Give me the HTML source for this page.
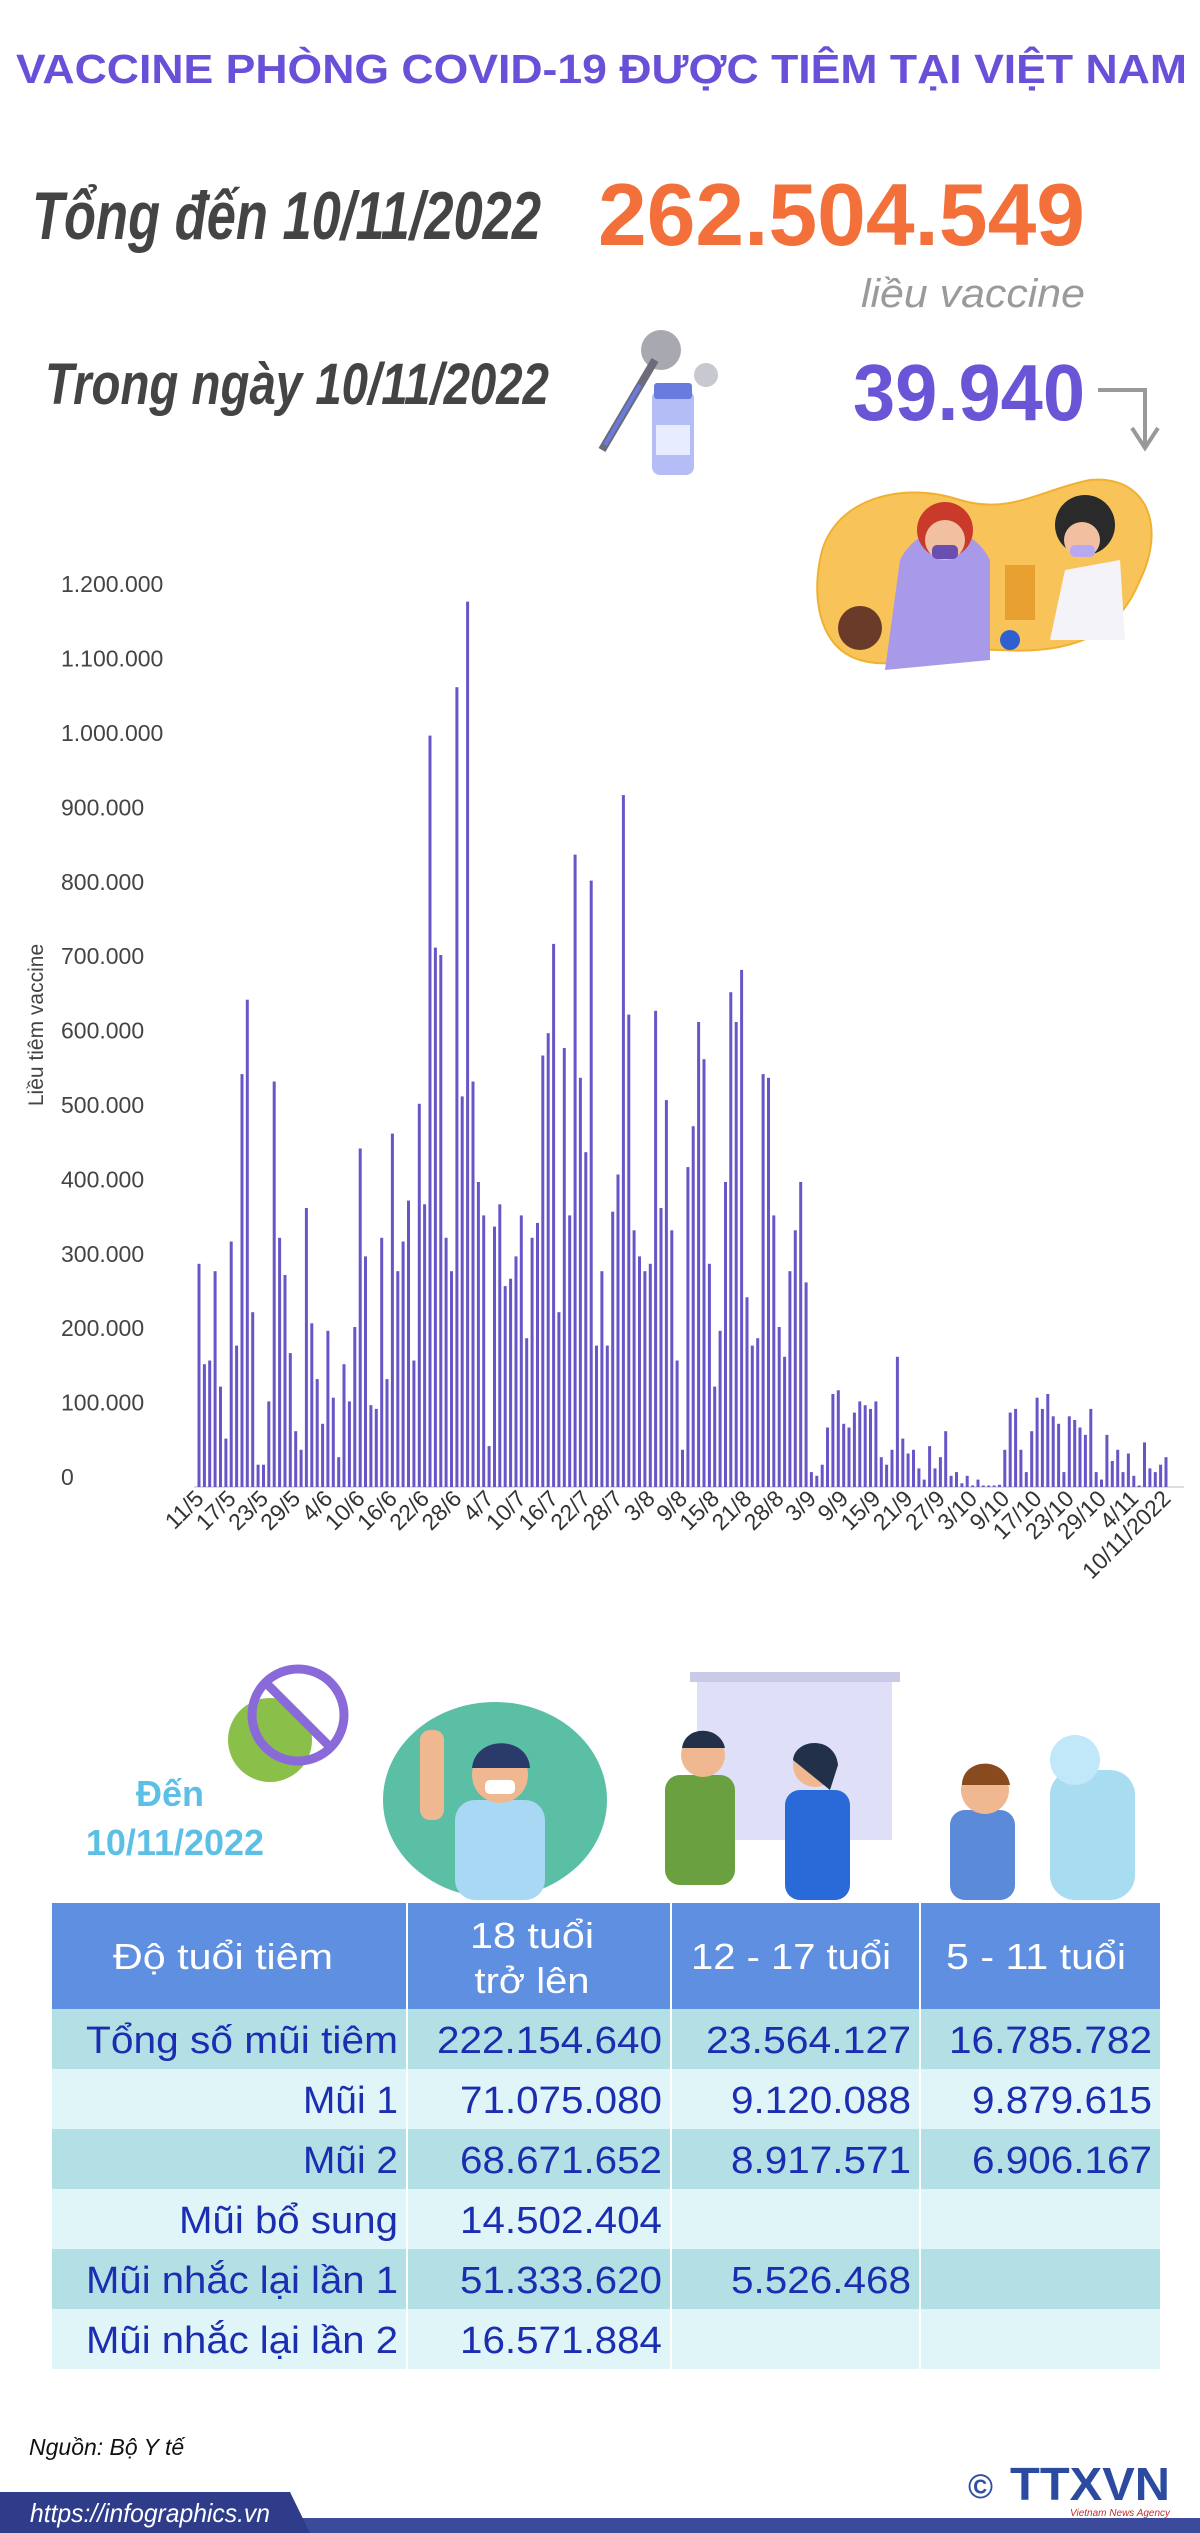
<!DOCTYPE html>
<html><head><meta charset="utf-8">
<style>
html,body{margin:0;padding:0;background:#fff;}
svg{display:block;}
text{font-family:"Liberation Sans",sans-serif;}
</style></head>
<body>
<svg id="s" width="1200" height="2533" viewBox="0 0 1200 2533" xmlns="http://www.w3.org/2000/svg">
<!-- Title -->
<text x="16" y="83" font-size="41" font-weight="bold" fill="#6a4fd8" textLength="1171" lengthAdjust="spacingAndGlyphs">VACCINE PHÒNG COVID-19 ĐƯỢC TIÊM TẠI VIỆT NAM</text>

<text x="32" y="239" font-family="Liberation Serif,serif" font-size="68" font-weight="bold" font-style="italic" fill="#444" textLength="509" lengthAdjust="spacingAndGlyphs">Tổng đến 10/11/2022</text>
<text x="598" y="245" font-size="88" font-weight="bold" fill="#f4703a" textLength="487" lengthAdjust="spacingAndGlyphs">262.504.549</text>
<text x="861" y="307" font-size="40" font-style="italic" fill="#9a9a9a" textLength="224" lengthAdjust="spacingAndGlyphs">liều vaccine</text>

<text x="45" y="404" font-family="Liberation Serif,serif" font-size="58" font-weight="bold" font-style="italic" fill="#444" textLength="504" lengthAdjust="spacingAndGlyphs">Trong ngày 10/11/2022</text>
<text x="853" y="420" font-size="80" font-weight="bold" fill="#6a55d6" textLength="232" lengthAdjust="spacingAndGlyphs">39.940</text>
<path d="M1098 390 H1145 V445" fill="none" stroke="#999" stroke-width="4"/>
<path d="M1132 428 L1145 448 L1158 428" fill="none" stroke="#999" stroke-width="4"/>

<!-- vaccine icon -->
<g>
<circle cx="661" cy="350" r="20" fill="#a8a8b0"/>
<circle cx="706" cy="375" r="12" fill="#c8c8d0"/>
<line x1="655" y1="360" x2="602" y2="450" stroke="#6b6b7a" stroke-width="8"/>
<line x1="640" y1="385" x2="605" y2="445" stroke="#6a7be0" stroke-width="4"/>
<rect x="652" y="390" width="42" height="85" rx="8" fill="#b4bdf5"/>
<rect x="654" y="383" width="38" height="16" rx="3" fill="#6a7be0"/>
<rect x="656" y="425" width="34" height="30" fill="#e8ecff"/>
</g>

<!-- illustration blob -->
<g>
<path d="M820 560 C830 500 900 480 960 500 C1010 515 1040 490 1090 480 C1150 475 1165 530 1140 580 C1120 630 1080 655 1000 650 C940 647 900 672 860 660 C820 648 812 600 820 560Z" fill="#f8c45a" stroke="#f0b030" stroke-width="2"/>
<circle cx="860" cy="628" r="22" fill="#6b3b2a"/>
<path d="M885 670 L900 560 C920 520 970 520 990 560 L990 660Z" fill="#a89ae8"/>
<circle cx="945" cy="530" r="28" fill="#c93a2a"/>
<circle cx="945" cy="540" r="20" fill="#f0c0a0"/>
<rect x="932" y="545" width="26" height="14" rx="5" fill="#6a4fb0"/>
<rect x="1005" y="565" width="30" height="55" fill="#e8a030"/>
<path d="M1050 640 L1065 570 L1120 560 L1125 640Z" fill="#f4f4f8"/>
<circle cx="1085" cy="525" r="30" fill="#2a2a2a"/>
<circle cx="1082" cy="540" r="18" fill="#f0c0a0"/>
<rect x="1070" y="545" width="25" height="12" rx="5" fill="#b8a8f0"/>
<circle cx="1010" cy="640" r="10" fill="#3060d0"/>
</g>

<!-- Chart -->
<g font-size="23" fill="#444" id="ylab"></g>
<line x1="194" y1="1487" x2="1184" y2="1487" stroke="#ddd" stroke-width="2"/>
<g id="bars" fill="#6a55c8"></g>
<g id="xlab" font-size="23" fill="#333"></g>
<text transform="translate(43,1025) rotate(-90)" font-size="21" fill="#444" text-anchor="middle">Liều tiêm vaccine</text>

<!-- middle illustrations -->
<g>
<circle cx="270" cy="1740" r="42" fill="#8ac04a"/>
<circle cx="298" cy="1715" r="46" fill="none" stroke="#8a6ad8" stroke-width="9"/>
<line x1="266" y1="1683" x2="330" y2="1747" stroke="#8a6ad8" stroke-width="9"/>
<text x="170" y="1806" font-size="36" font-weight="bold" fill="#5cbfe6" text-anchor="middle">Đến</text>
<text x="175" y="1855" font-size="36" font-weight="bold" fill="#5cbfe6" text-anchor="middle">10/11/2022</text>

<ellipse cx="495" cy="1800" rx="112" ry="98" fill="#5bbfa6"/>
<rect x="455" y="1800" width="90" height="100" rx="20" fill="#a8d8f4"/>
<circle cx="500" cy="1775" r="28" fill="#f0b890"/>
<path d="M472 1768 C475 1735 528 1735 530 1768 Z" fill="#2a3a6a"/>
<rect x="485" y="1780" width="30" height="14" rx="5" fill="#fff"/>
<rect x="420" y="1730" width="24" height="90" rx="10" fill="#f0b890"/>

<rect x="697" y="1680" width="195" height="160" fill="#dfe0f8"/>
<rect x="690" y="1672" width="210" height="10" fill="#c8cae8"/>
<rect x="665" y="1775" width="70" height="110" rx="15" fill="#6aa040"/>
<circle cx="703" cy="1755" r="22" fill="#f0b890"/>
<path d="M682 1748 C685 1725 720 1725 725 1748Z" fill="#22304a"/>
<rect x="785" y="1790" width="65" height="110" rx="15" fill="#2a6ad8"/>
<circle cx="815" cy="1765" r="22" fill="#f0b890"/>
<path d="M793 1760 C795 1738 835 1735 838 1765 L830 1790 Z" fill="#22304a"/>

<rect x="950" y="1810" width="65" height="90" rx="15" fill="#5a8ad8"/>
<circle cx="985" cy="1790" r="24" fill="#f0b890"/>
<path d="M962 1785 C962 1758 1005 1755 1010 1785Z" fill="#8a4a20"/>
<rect x="1050" y="1770" width="85" height="130" rx="25" fill="#a8dcf0"/>
<circle cx="1075" cy="1760" r="25" fill="#c0e8f8"/>
</g>

<!-- Table -->
<g>
<rect x="52" y="1903" width="1108" height="106" fill="#5f8fe0"/>
<rect x="52" y="2009" width="1108" height="60" fill="#b3e0e5"/>
<rect x="52" y="2069" width="1108" height="60" fill="#e0f5f7"/>
<rect x="52" y="2129" width="1108" height="60" fill="#b3e0e5"/>
<rect x="52" y="2189" width="1108" height="60" fill="#e0f5f7"/>
<rect x="52" y="2249" width="1108" height="60" fill="#b3e0e5"/>
<rect x="52" y="2309" width="1108" height="60" fill="#e0f5f7"/>
<g stroke="#fff" stroke-width="2">
<line x1="407" y1="1903" x2="407" y2="2369"/>
<line x1="671" y1="1903" x2="671" y2="2369"/>
<line x1="920" y1="1903" x2="920" y2="2369"/>
</g>
<g fill="#fff" font-size="36" text-anchor="middle">
<text x="223" y="1969" textLength="220" lengthAdjust="spacingAndGlyphs">Độ tuổi tiêm</text>
<text x="532" y="1948" textLength="124" lengthAdjust="spacingAndGlyphs">18 tuổi</text>
<text x="532" y="1993" textLength="115" lengthAdjust="spacingAndGlyphs">trở lên</text>
<text x="791" y="1969" textLength="200" lengthAdjust="spacingAndGlyphs">12 - 17 tuổi</text>
<text x="1036" y="1969" textLength="180" lengthAdjust="spacingAndGlyphs">5 - 11 tuổi</text>
</g>
<g fill="#1b2db0" font-size="38" text-anchor="end">
<text x="398" y="2053" textLength="312" lengthAdjust="spacingAndGlyphs">Tổng số mũi tiêm</text>
<text x="662" y="2053" textLength="225" lengthAdjust="spacingAndGlyphs">222.154.640</text>
<text x="911" y="2053" textLength="205" lengthAdjust="spacingAndGlyphs">23.564.127</text>
<text x="1152" y="2053" textLength="203" lengthAdjust="spacingAndGlyphs">16.785.782</text>

<text x="398" y="2113" textLength="95" lengthAdjust="spacingAndGlyphs">Mũi 1</text>
<text x="662" y="2113" textLength="202" lengthAdjust="spacingAndGlyphs">71.075.080</text>
<text x="911" y="2113" textLength="180" lengthAdjust="spacingAndGlyphs">9.120.088</text>
<text x="1152" y="2113" textLength="180" lengthAdjust="spacingAndGlyphs">9.879.615</text>

<text x="398" y="2173" textLength="95" lengthAdjust="spacingAndGlyphs">Mũi 2</text>
<text x="662" y="2173" textLength="202" lengthAdjust="spacingAndGlyphs">68.671.652</text>
<text x="911" y="2173" textLength="180" lengthAdjust="spacingAndGlyphs">8.917.571</text>
<text x="1152" y="2173" textLength="180" lengthAdjust="spacingAndGlyphs">6.906.167</text>

<text x="398" y="2233" textLength="219" lengthAdjust="spacingAndGlyphs">Mũi bổ sung</text>
<text x="662" y="2233" textLength="202" lengthAdjust="spacingAndGlyphs">14.502.404</text>

<text x="398" y="2293" textLength="312" lengthAdjust="spacingAndGlyphs">Mũi nhắc lại lần 1</text>
<text x="662" y="2293" textLength="202" lengthAdjust="spacingAndGlyphs">51.333.620</text>
<text x="911" y="2293" textLength="180" lengthAdjust="spacingAndGlyphs">5.526.468</text>

<text x="398" y="2353" textLength="312" lengthAdjust="spacingAndGlyphs">Mũi nhắc lại lần 2</text>
<text x="662" y="2353" textLength="202" lengthAdjust="spacingAndGlyphs">16.571.884</text>
</g>
</g>

<!-- Footer -->
<text x="29" y="2455" font-size="23" font-style="italic" fill="#111">Nguồn: Bộ Y tế</text>
<text x="968" y="2498" font-size="34" fill="#3050a0" font-weight="bold">©</text>
<text x="1010" y="2500" font-size="46" font-weight="bold" fill="#2c4aa0" textLength="160" lengthAdjust="spacingAndGlyphs">TTXVN</text>
<text x="1070" y="2516" font-size="10" font-style="italic" fill="#c03030">Vietnam News Agency</text>
<rect x="0" y="2518" width="1200" height="15" fill="#3b4a9a"/>
<path d="M0 2492 H290 L310 2533 H0Z" fill="#2e3c8a"/>
<text x="30" y="2522" font-size="26" font-style="italic" fill="#fff" textLength="240" lengthAdjust="spacingAndGlyphs">https://infographics.vn</text>
</svg>
<script>
var NS="http://www.w3.org/2000/svg";
function el(t,a,txt){var e=document.createElementNS(NS,t);for(var k in a)e.setAttribute(k,a[k]);if(txt)e.textContent=txt;return e;}
var base=1487, per=74.4;
var yl=document.getElementById("ylab");
var labs=["0","100.000","200.000","300.000","400.000","500.000","600.000","700.000","800.000","900.000","1.000.000","1.100.000","1.200.000"];
for(var i=0;i<labs.length;i++){yl.appendChild(el("text",{x:61,y:base-i*per-2},labs[i]));}
var v=[300,165,170,290,135,65,330,190,555,655,235,30,30,115,545,335,285,180,75,50,375,220,145,85,210,120,40,165,115,215,455,310,110,105,335,145,475,290,330,385,170,515,380,1010,725,715,335,290,1075,525,1190,545,410,365,55,350,380,270,280,310,365,200,335,355,580,610,730,235,590,365,850,550,450,815,190,290,190,370,420,930,635,345,310,290,300,640,375,520,345,170,50,430,485,625,575,300,135,210,410,665,625,695,255,190,200,555,550,365,215,175,290,345,410,275,20,15,30,80,125,130,85,80,100,115,110,105,115,40,30,50,175,65,45,50,25,10,55,25,40,75,15,20,5,15,2,10,2,2,2,3,50,100,105,50,20,75,120,105,125,95,85,20,95,90,80,70,105,20,10,70,35,50,20,45,15,2,60,25,20,30,40];
var b=document.getElementById("bars");
var x0=199, x1=1166, sp=(x1-x0)/(v.length-1);
for(var i=0;i<v.length;i++){var h=v[i]*per/100;b.appendChild(el("rect",{x:(x0+i*sp-1.5).toFixed(1),y:(base-h).toFixed(1),width:3,height:h.toFixed(1)}));}
var xl=["11/5","17/5","23/5","29/5","4/6","10/6","16/6","22/6","28/6","4/7","10/7","16/7","22/7","28/7","3/8","9/8","15/8","21/8","28/8","3/9","9/9","15/9","21/9","27/9","3/10","9/10","17/10","23/10","29/10","4/11","10/11/2022"];
var g=document.getElementById("xlab");
for(var i=0;i<xl.length;i++){var idx=Math.min(i*6,v.length-1);var x=x0+idx*sp+6;
g.appendChild(el("text",{"text-anchor":"end",transform:"translate("+x.toFixed(1)+",1500) rotate(-45)"},xl[i]));}
</script>
</body></html>
